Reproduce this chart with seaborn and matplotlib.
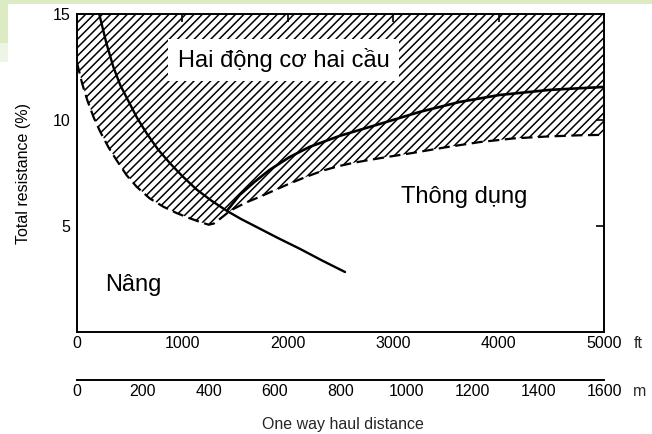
import matplotlib
matplotlib.use("Agg")
import matplotlib.pyplot as plt
from matplotlib.patches import Rectangle
import seaborn as sns

sns.set_theme(style="white")
plt.rcParams["font.family"] = ["Liberation Sans", "DejaVu Sans"]
plt.rcParams["hatch.linewidth"] = 1.1

# values (distance in ft, resistance in %)
lower_ft = [0, 50, 100, 160, 220, 300, 376, 470, 566, 690, 819, 950, 1072, 1180,
            1250, 1300, 1360, 1436, 1483, 1600, 1736, 1880, 2021, 2180, 2337, 2480,
            2621, 2780, 2937, 3190, 3507, 3823, 4140, 4456, 4773, 5000]
lower_pct = [12.7, 11.7, 10.9, 10.1, 9.45, 8.7, 8.1, 7.4, 6.85, 6.3, 5.91, 5.6, 5.36,
             5.17, 5.06, 5.12, 5.35, 5.65, 5.8, 6.1, 6.38, 6.7, 7.01, 7.33, 7.62, 7.82,
             7.98, 8.12, 8.25, 8.45, 8.72, 8.96, 9.13, 9.22, 9.28, 9.3]
lift_ft = [211, 280, 345, 410, 487, 570, 661, 770, 882, 1000, 1135, 1280, 1420,
           1560, 1705, 1900, 2116, 2330, 2543]
lift_pct = [15.0, 13.6, 12.5, 11.65, 10.9, 10.1, 9.37, 8.6, 7.96, 7.35, 6.72, 6.18,
            5.72, 5.32, 4.95, 4.45, 3.92, 3.36, 2.83]
common_ft = [1428, 1542, 1684, 1826, 2016, 2206, 2491, 2870, 3250, 3629, 4009,
             4483, 5000]
common_pct = [5.75, 6.46, 7.08, 7.64, 8.25, 8.73, 9.25, 9.81, 10.38, 10.85, 11.18,
              11.42, 11.56]

ft_ticks = [0, 1000, 2000, 3000, 4000, 5000]
pct_ticks = [5, 10, 15]
m_ticks = [0, 200, 400, 600, 800, 1000, 1200, 1400, 1600]

W, H = 652, 434
fig = plt.figure(figsize=(W / 100, H / 100), dpi=100)
fig.patch.set_facecolor("white")

# light green frame from the slide behind the scan
green = "#dcebc4"
fig.patches.append(Rectangle((0, 1 - 4 / H), 1, 4 / H, transform=fig.transFigure,
                             facecolor=green, edgecolor="none", zorder=0))
fig.patches.append(Rectangle((0, 1 - 43 / H), 8 / W, 43 / H, transform=fig.transFigure,
                             facecolor=green, edgecolor="none", zorder=0))
fig.patches.append(Rectangle((0, 1 - 62 / H), 8 / W, 19 / H, transform=fig.transFigure,
                             facecolor="#eef5e4", edgecolor="none", zorder=0))

ax = fig.add_axes([77 / W, 1 - 332 / H, 527 / W, 318 / H])
ax.set_facecolor("none")

ax.fill_between(lower_ft, lower_pct, 15, facecolor="none", edgecolor="black",
                hatch="////", linewidth=0)
sns.lineplot(x=lower_ft, y=lower_pct, ax=ax, color="black", linewidth=1.6,
             linestyle=(0, (5, 2.5)))
sns.lineplot(x=lift_ft, y=lift_pct, ax=ax, color="black", linewidth=1.7)
sns.lineplot(x=common_ft, y=common_pct, ax=ax, color="black", linewidth=1.9)

ax.set_xlim(0, 5000)
ax.set_ylim(0, 15)
ax.set_xticks(ft_ticks)
ax.set_xticklabels([str(t) for t in ft_ticks])
ax.set_yticks(pct_ticks)
ax.set_yticklabels([str(t) for t in pct_ticks])
ax.tick_params(direction="in", length=6, width=1.2, top=True, right=True,
               labelsize=11.5, colors="black", pad=3)
ax.tick_params(axis="y", pad=5)
for s in ax.spines.values():
    s.set_color("black")
    s.set_linewidth(1.4)
    s.set_visible(True)

ax.set_ylabel("Total resistance (%)", fontsize=11.5, color="black")
ax.yaxis.set_label_coords(-0.087, 0.5)

ax.text(1959, 12.83, "Hai động cơ hai cầu", fontsize=17, ha="center", va="center",
        color="black", bbox=dict(boxstyle="square,pad=0.4", facecolor="white",
                                 edgecolor="none"))
ax.text(3677, 6.37, "Thông dụng", fontsize=17, ha="center", va="center", color="black")
ax.text(536, 2.2, "Nâng", fontsize=17, ha="center", va="center", color="black")

fig.text(638 / W, 1 - 343 / H, "ft", fontsize=11.5, ha="center", va="center")

# metric scale underneath
ax2 = fig.add_axes([77 / W, 1 - 380 / H, 527 / W, 0.0005])
ax2.set_facecolor("none")
ax2.set_xlim(0, 1600)
ax2.set_xticks(m_ticks)
ax2.set_xticklabels([str(t) for t in m_ticks])
ax2.set_yticks([])
for side in ["left", "right", "top"]:
    ax2.spines[side].set_visible(False)
ax2.spines["bottom"].set_color("black")
ax2.spines["bottom"].set_linewidth(1.4)
ax2.tick_params(axis="x", direction="in", length=7, width=1.2, labelsize=11.5,
                colors="black", pad=3)
fig.text(640 / W, 1 - 391 / H, "m", fontsize=11.5, ha="center", va="center")
fig.text(343 / W, 1 - 425 / H, "One way haul distance", fontsize=11.5,
         ha="center", va="center")

fig.savefig("out.png", dpi=100)
